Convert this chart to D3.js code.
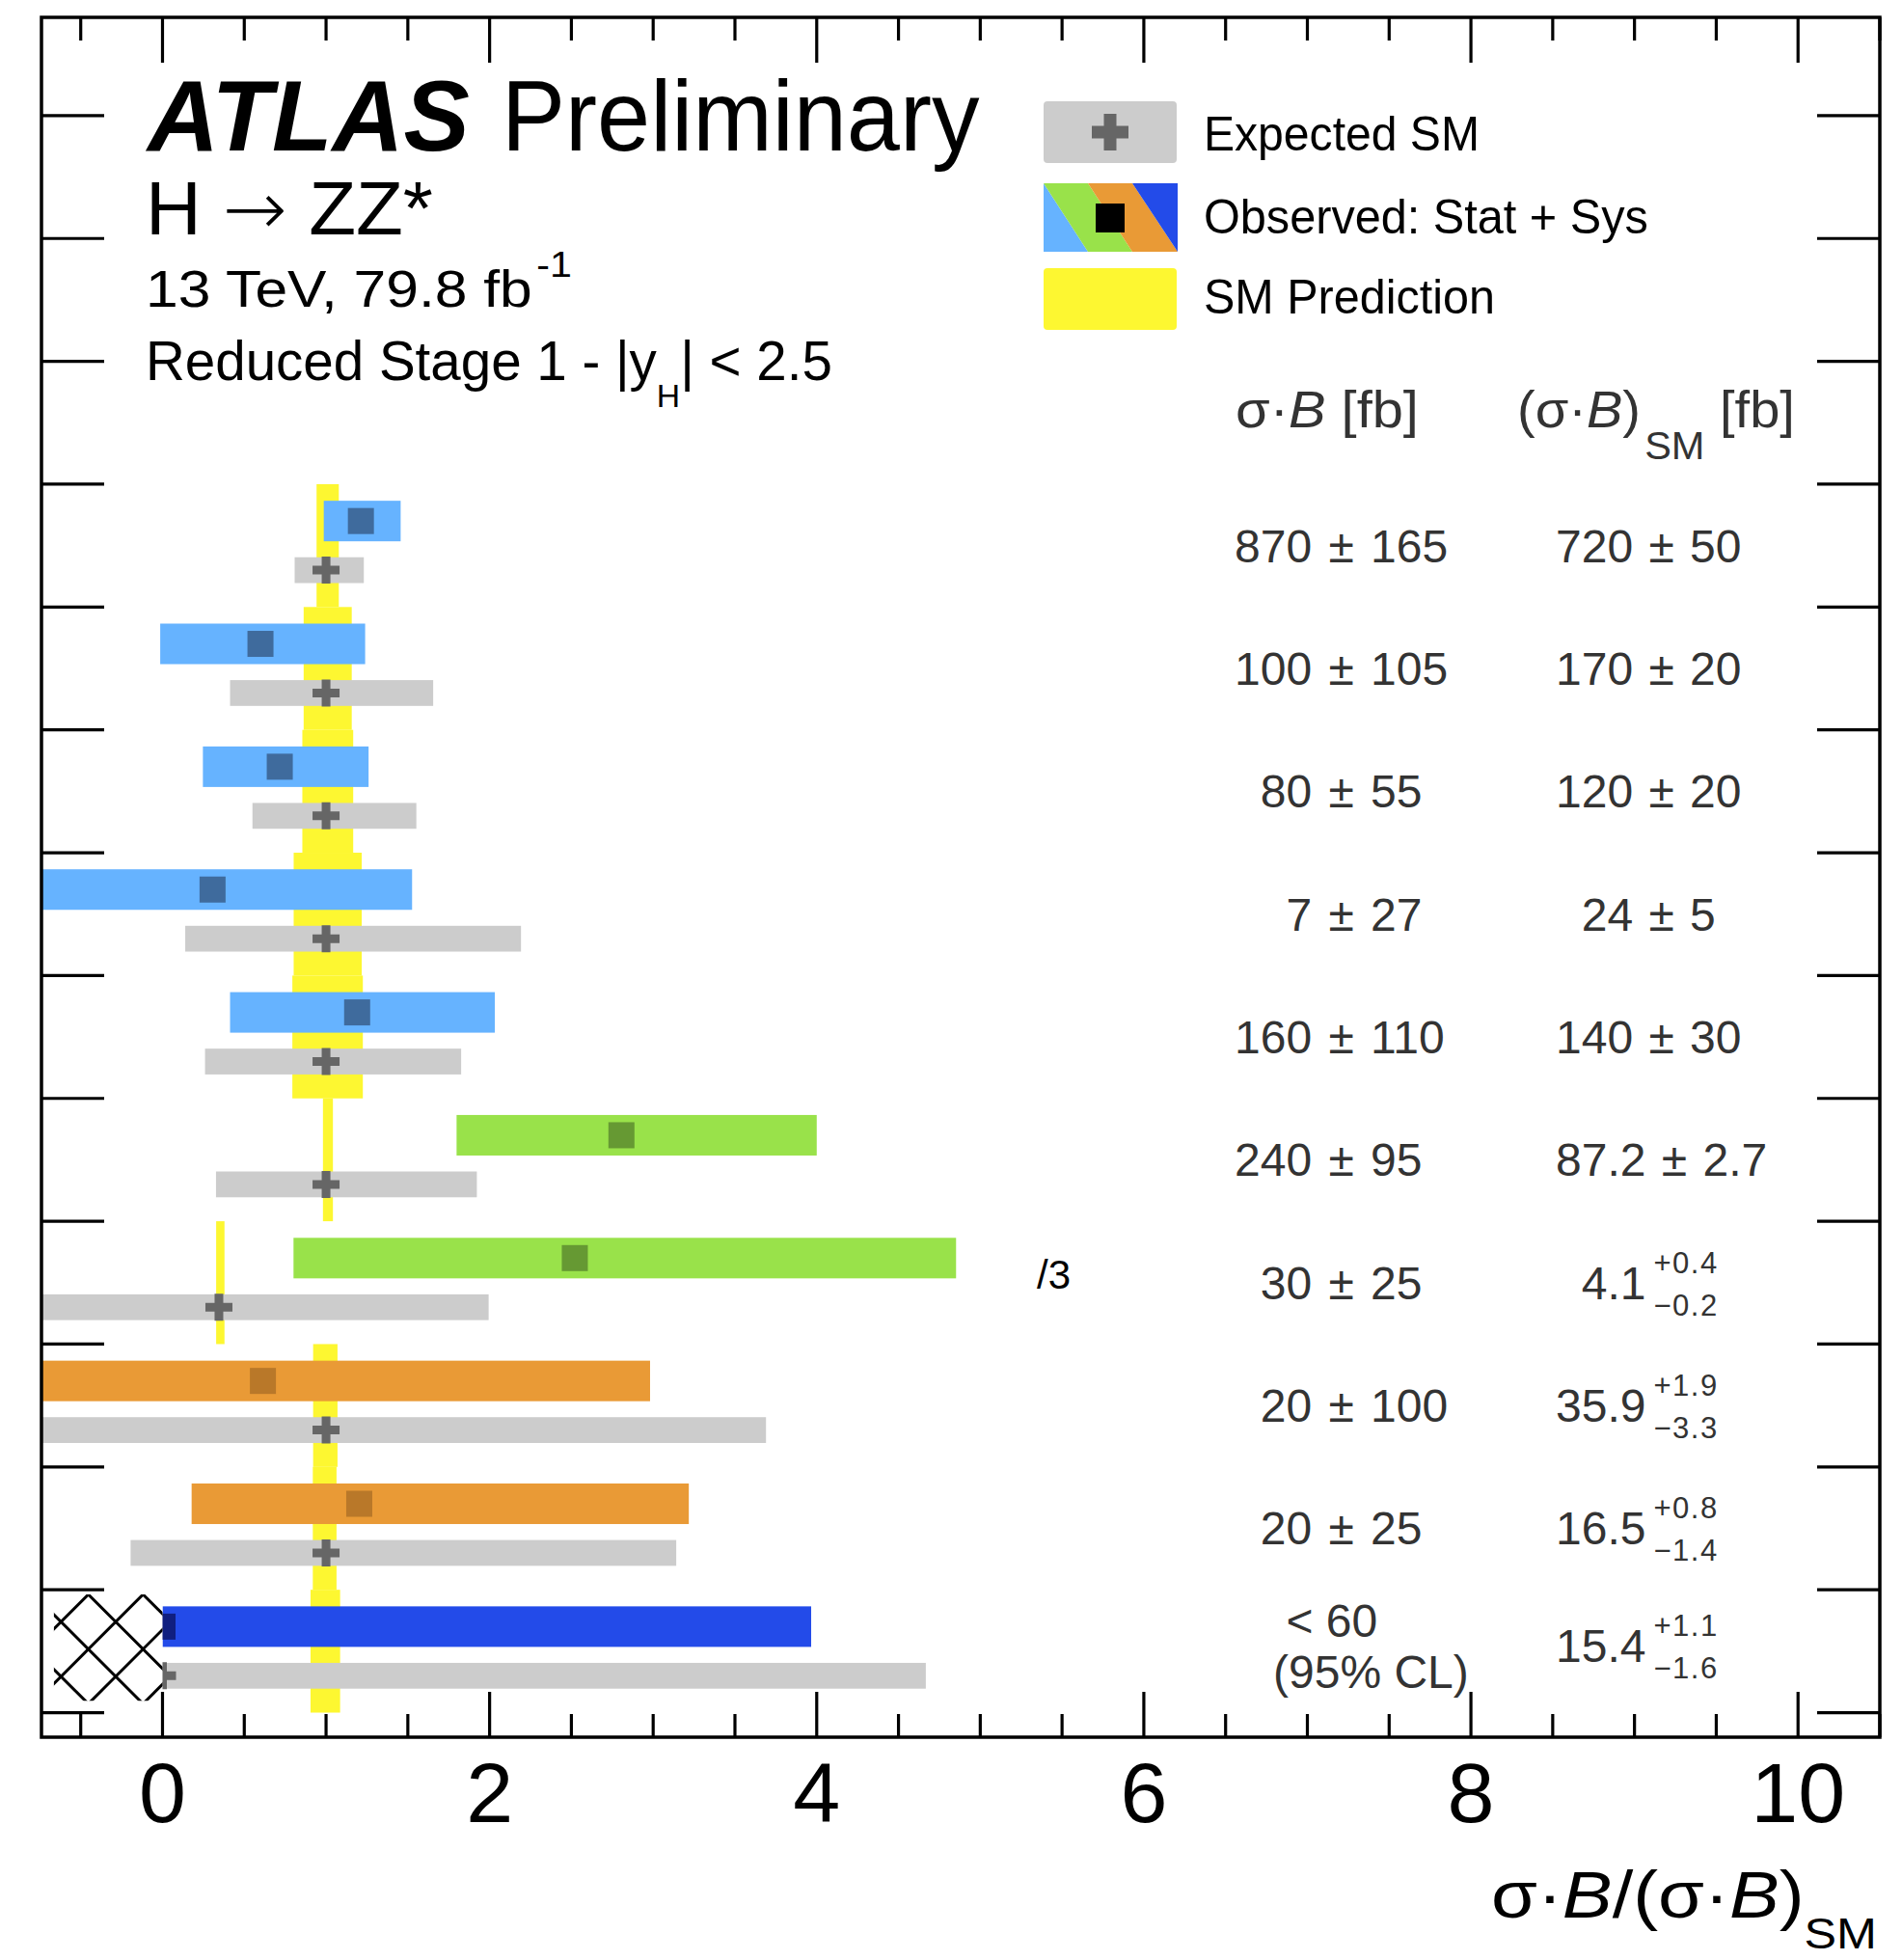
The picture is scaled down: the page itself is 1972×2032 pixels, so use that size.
<!DOCTYPE html>
<html>
<head>
<meta charset="utf-8">
<script src="https://d3js.org/d3.v7.min.js"></script>
<style>
body { margin: 0; background: #fff; }
text { font-family: "Liberation Sans", Arial, Helvetica, sans-serif; }
</style>
</head>
<body>
<svg id="chart" width="1972" height="2032"></svg>
<script>
// Reduced Stage 1 bins, top to bottom (values in units of the SM prediction)
const processGroup = ["ggF", "ggF", "ggF", "ggF", "ggF", "VBF", "VBF", "VH", "VH", "ttH"];
const obsValue = [1.213, 0.599, 0.717, 0.306, 1.19, 2.806, 2.521, 0.614, 1.203, 0];
const obsLow   = [0.986, -0.014, 0.247, -0.83, 0.413, 1.798, 0.801, -2.2, 0.178, 0];
const obsHigh  = [1.456, 1.239, 1.26, 1.526, 2.032, 4.0, 4.852, 2.981, 3.218, 3.966];
const expValue = [1, 1, 1, 1, 1, 1, 0.345, 1, 1, 0];
const expLow   = [0.808, 0.413, 0.55, 0.139, 0.26, 0.327, -1.2, -1.5, -0.195, 0];
const expHigh  = [1.231, 1.655, 1.552, 2.192, 1.826, 1.922, 1.994, 3.69, 3.141, 4.667];
const smLow    = [0.942, 0.863, 0.855, 0.802, 0.794, 0.981, 0.328, 0.921, 0.919, 0.905];
const smHigh   = [1.078, 1.157, 1.166, 1.218, 1.225, 1.042, 0.379, 1.07, 1.064, 1.086];
const upperLimit = [false, false, false, false, false, false, false, false, false, true];
const scaleNote = ["", "", "", "", "", "", "/3", "", "", ""];

// table columns
const measuredText = ["870 ± 165", "100 ± 105", "80 ± 55", "7 ± 27", "160 ± 110",
                      "240 ± 95", "30 ± 25", "20 ± 100", "20 ± 25", "< 60"];
const limitNote = "(95% CL)";
const smCentral = ["720", "170", "120", "24", "140", "87.2", "4.1", "35.9", "16.5", "15.4"];
const smErrUp   = ["50", "20", "20", "5", "30", "2.7", "0.4", "1.9", "0.8", "1.1"];
const smErrDown = ["50", "20", "20", "5", "30", "2.7", "0.2", "3.3", "1.4", "1.6"];

const xTicks = [0, 2, 4, 6, 8, 10];

const legendLabels = ["Expected SM", "Observed: Stat + Sys", "SM Prediction"];

// styles
const barColor = { ggF: "#66b3ff", VBF: "#99e24a", VH: "#e99a36", ttH: "#234be9" };
const markColor = { ggF: "#3f6b9d", VBF: "#669933", VH: "#b97829", ttH: "#101f80" };
const yellow = "#fdf731";
const gray = "#cccccc";
const crossColor = "#666666";
const tableColor = "#333333";

const svg = d3.select("#chart");
const frame = { left: 43, right: 1949, top: 18, bottom: 1801 };

const x = d3.scaleLinear().domain([-0.74, 10.5]).range([frame.left, frame.right]);
const y = d3.scaleLinear().domain([-0.2, 13.8]).range([frame.bottom, frame.top]);
const unit = y(0) - y(1);
const nBins = obsValue.length;
const binTop = i => nBins - i;

//squeeze a text horizontally to a wanted width
function fit(sel, width) {
    const b = sel.node().getBBox();
    const k = width / b.width;
    sel.attr("transform", `translate(${b.x},0) scale(${k},1) translate(${-b.x},0)`);
}

svg.append("rect").attr("width", 1972).attr("height", 2032).attr("fill", "#fff");

const defs = svg.append("defs");
defs.append("clipPath").attr("id", "plotclip")
    .append("rect")
    .attr("x", frame.left).attr("y", frame.top)
    .attr("width", frame.right - frame.left).attr("height", frame.bottom - frame.top);

const plot = svg.append("g").attr("clip-path", "url(#plotclip)");
const idx = d3.range(nBins);

//SM prediction bands
plot.selectAll(".sm").data(idx).enter().append("rect")
    .attr("x", i => x(smLow[i]))
    .attr("width", i => x(smHigh[i]) - x(smLow[i]))
    .attr("y", i => y(binTop(i)))
    .attr("height", unit)
    .attr("fill", yellow);

//expected bars
const expH = 0.21 * unit;
plot.selectAll(".exp").data(idx).enter().append("rect")
    .attr("x", i => x(expLow[i]))
    .attr("width", i => x(expHigh[i]) - x(expLow[i]))
    .attr("y", i => y(binTop(i) - 0.7) - expH / 2)
    .attr("height", expH)
    .attr("fill", gray);

//observed bars
const obsH = 0.33 * unit;
plot.selectAll(".obs").data(idx).enter().append("rect")
    .attr("x", i => x(obsLow[i]))
    .attr("width", i => x(obsHigh[i]) - x(obsLow[i]))
    .attr("y", i => y(binTop(i) - 0.3) - obsH / 2)
    .attr("height", obsH)
    .attr("fill", i => barColor[processGroup[i]]);

//markers
function crossPath(cx, cy, s, t) {
    const a = s / 2, b = t / 2;
    return `M${cx - b},${cy - a}h${t}v${a - b}h${a - b}v${t}h${-(a - b)}v${a - b}h${-t}v${-(a - b)}h${-(a - b)}v${-t}h${a - b}z`;
}
plot.selectAll(".expmark").data(idx).enter().append("path")
    .attr("d", i => crossPath(x(expValue[i]), y(binTop(i) - 0.7), 28, 9))
    .attr("fill", crossColor);

plot.selectAll(".obsmark").data(idx).enter().append("rect")
    .attr("x", i => x(obsValue[i]) - 13.5)
    .attr("y", i => y(binTop(i) - 0.3) - 13.5)
    .attr("width", 27).attr("height", 27)
    .attr("fill", i => markColor[processGroup[i]]);

//hatched area for upper limit bins (below zero)
idx.filter(i => upperLimit[i]).forEach(i => {
    const hx0 = x(-0.664), hx1 = x(0);
    const hy0 = y(binTop(i) - 0.038), hy1 = y(binTop(i) - 1 + 0.096);
    plot.append("rect")
        .attr("x", frame.left).attr("y", y(binTop(i)) + 2)
        .attr("width", hx1 - frame.left).attr("height", unit - 4)
        .attr("fill", "#fff");
    const cid = "hatch" + i;
    defs.append("clipPath").attr("id", cid)
        .append("rect").attr("x", hx0).attr("y", hy0)
        .attr("width", hx1 - hx0).attr("height", hy1 - hy0);
    const g = plot.append("g").attr("clip-path", `url(#${cid})`);
    const step = 56.7, ax = hx0 + 35.7, ay = hy0, L = 300;
    for (let n = -6; n <= 6; n++) {
        const px = ax + n * step;
        g.append("line").attr("x1", px - L).attr("y1", ay - L).attr("x2", px + L).attr("y2", ay + L)
            .attr("stroke", "#000").attr("stroke-width", 3);
        g.append("line").attr("x1", px - L).attr("y1", ay + L).attr("x2", px + L).attr("y2", ay - L)
            .attr("stroke", "#000").attr("stroke-width", 3);
    }
});

//frame and ticks
const axisG = svg.append("g").attr("stroke", "#000").attr("stroke-width", 3.2);
const xMinor = d3.range(-0.5, 10.51, 0.5);
xMinor.forEach(v => {
    const len = xTicks.includes(v) ? 47 : 24;
    axisG.append("line").attr("x1", x(v)).attr("x2", x(v))
        .attr("y1", frame.bottom).attr("y2", frame.bottom - len);
    axisG.append("line").attr("x1", x(v)).attr("x2", x(v))
        .attr("y1", frame.top).attr("y2", frame.top + len);
});
d3.range(0, 14).forEach(v => {
    axisG.append("line").attr("x1", frame.left).attr("x2", frame.left + 65)
        .attr("y1", y(v)).attr("y2", y(v));
    axisG.append("line").attr("x1", frame.right).attr("x2", frame.right - 65)
        .attr("y1", y(v)).attr("y2", y(v));
});
svg.append("rect")
    .attr("x", frame.left).attr("y", frame.top)
    .attr("width", frame.right - frame.left).attr("height", frame.bottom - frame.top)
    .attr("fill", "none").attr("stroke", "#000").attr("stroke-width", 3.5);

//x tick labels
svg.selectAll(".xlab").data(xTicks).enter().append("text")
    .attr("x", d => x(d)).attr("y", 1889)
    .attr("text-anchor", "middle")
    .attr("font-size", 88)
    .text(d => d);

//x axis title
const xt = svg.append("text").attr("x", 1546).attr("y", 1988).attr("font-size", 68);
xt.append("tspan").text("σ·");
xt.append("tspan").attr("font-style", "italic").text("B");
xt.append("tspan").text("/(σ·");
xt.append("tspan").attr("font-style", "italic").text("B");
xt.append("tspan").text(")");
xt.append("tspan").attr("font-size", 44).attr("dy", 32).text("SM");
fit(xt, 400);

//ATLAS label block
const atlas = svg.append("text").attr("x", 153).attr("y", 156)
    .attr("font-size", 103).attr("font-weight", "bold").attr("font-style", "italic")
    .text("ATLAS");
fit(atlas, 337);
const prelim = svg.append("text").attr("x", 520).attr("y", 156)
    .attr("font-size", 103).text("Preliminary");
fit(prelim, 496);

const proc = svg.append("text").attr("x", 151).attr("y", 243).attr("font-size", 78);
proc.append("tspan").text("H ");
proc.append("tspan").attr("font-family", "DejaVu Sans").attr("font-weight", 200)
    .attr("font-size", 78).text("→");
proc.append("tspan").text(" ZZ*");
fit(proc, 298);

const lumi = svg.append("text").attr("x", 151).attr("y", 318).attr("font-size", 53);
lumi.append("tspan").text("13 TeV, 79.8 fb");
lumi.append("tspan").attr("font-size", 36).attr("dy", -31).attr("dx", 4).text("-1");
fit(lumi, 442);

const stage = svg.append("text").attr("x", 151).attr("y", 394).attr("font-size", 57);
stage.append("tspan").text("Reduced Stage 1 - |y");
stage.append("tspan").attr("font-size", 34).attr("dy", 28).text("H");
stage.append("tspan").attr("dy", -28).text("| < 2.5");
fit(stage, 712);

//legend
const lg = svg.append("g");
lg.append("rect").attr("x", 1082).attr("y", 105).attr("width", 138).attr("height", 64)
    .attr("rx", 4).attr("fill", gray);
lg.append("path").attr("d", crossPath(1151, 137, 38, 13)).attr("fill", crossColor);

const bx0 = 1082, bx1 = 1221, by0 = 190, by1 = 261, s = 46;
const stripes = [
    { pts: [[bx0, by0], [bx0 + s, by1], [bx0, by1]], c: barColor.ggF },
    { pts: [[bx0, by0], [bx0 + s, by0], [bx0 + 2 * s, by1], [bx0 + s, by1]], c: barColor.VBF },
    { pts: [[bx0 + s, by0], [bx0 + 2 * s, by0], [bx1, by1], [bx0 + 2 * s, by1]], c: barColor.VH },
    { pts: [[bx0 + 2 * s, by0], [bx1, by0], [bx1, by1]], c: barColor.ttH }
];
stripes.forEach(st => {
    lg.append("polygon").attr("points", st.pts.map(p => p.join(",")).join(" ")).attr("fill", st.c);
});
lg.append("rect").attr("x", 1136).attr("y", 211).attr("width", 30).attr("height", 30).attr("fill", "#000");
lg.append("rect").attr("x", 1082).attr("y", 278).attr("width", 138).attr("height", 64)
    .attr("rx", 4).attr("fill", yellow);

const legendY = [156, 242, 325];
const legendW = [286, 461, 302];
legendLabels.forEach((t, k) => {
    const lt = lg.append("text").attr("x", 1248).attr("y", legendY[k]).attr("font-size", 50).text(t);
    fit(lt, legendW[k]);
});

//table headers
const h1 = svg.append("text").attr("x", 1281).attr("y", 443).attr("font-size", 54).attr("fill", tableColor);
h1.append("tspan").text("σ·");
h1.append("tspan").attr("font-style", "italic").text("B");
h1.append("tspan").text(" [fb]");
fit(h1, 190);

const h2 = svg.append("text").attr("x", 1573).attr("y", 443).attr("font-size", 54).attr("fill", tableColor);
h2.append("tspan").text("(σ·");
h2.append("tspan").attr("font-style", "italic").text("B");
h2.append("tspan").text(")");
h2.append("tspan").attr("font-size", 40).attr("dy", 33).attr("dx", 4).text("SM");
h2.append("tspan").attr("dy", -33).text(" [fb]");
fit(h2, 288);

//table values
const fs = 48;
const probe = svg.append("text").attr("font-size", fs).text("0");
const digitW = probe.node().getComputedTextLength();
probe.remove();
const col1 = 1280, col2 = 1613;
const nDigits = str => (str.split(" ")[0].match(/[0-9]/g) || []).length;

idx.forEach(i => {
    const yc = y(binTop(i) - 0.5);
    if (upperLimit[i]) {
        svg.append("text").attr("x", col1 + 2 * digitW).attr("y", yc - 15)
            .attr("font-size", fs).attr("fill", tableColor).text(measuredText[i]);
        svg.append("text").attr("x", col1 + 40).attr("y", yc + 38)
            .attr("font-size", fs).attr("fill", tableColor).text(limitNote);
    } else {
        svg.append("text").attr("x", col1 + (3 - nDigits(measuredText[i])) * digitW).attr("y", yc + 17)
            .attr("font-size", fs).attr("fill", tableColor).attr("word-spacing", 4)
            .text(measuredText[i]);
    }

    const cx = col2 + (3 - nDigits(smCentral[i])) * digitW;
    if (smErrUp[i] === smErrDown[i]) {
        svg.append("text").attr("x", cx).attr("y", yc + 17)
            .attr("font-size", fs).attr("fill", tableColor).attr("word-spacing", 3)
            .text(`${smCentral[i]} ± ${smErrUp[i]}`);
    } else {
        const base = upperLimit[i] ? yc + 11 : yc + 17;
        const ct = svg.append("text").attr("x", cx).attr("y", base)
            .attr("font-size", fs).attr("fill", tableColor).text(smCentral[i]);
        const ex = cx + ct.node().getComputedTextLength() + 8;
        svg.append("text").attr("x", ex).attr("y", base - 27)
            .attr("font-size", 31).attr("fill", tableColor).attr("letter-spacing", 1.5)
            .text("+" + smErrUp[i]);
        svg.append("text").attr("x", ex).attr("y", base + 17)
            .attr("font-size", 31).attr("fill", tableColor).attr("letter-spacing", 1.5)
            .text("\u2212" + smErrDown[i]);
    }

    if (scaleNote[i]) {
        svg.append("text").attr("x", 1075).attr("y", yc + 6)
            .attr("font-size", 42).text(scaleNote[i]);
    }
});
</script>
</body>
</html>
